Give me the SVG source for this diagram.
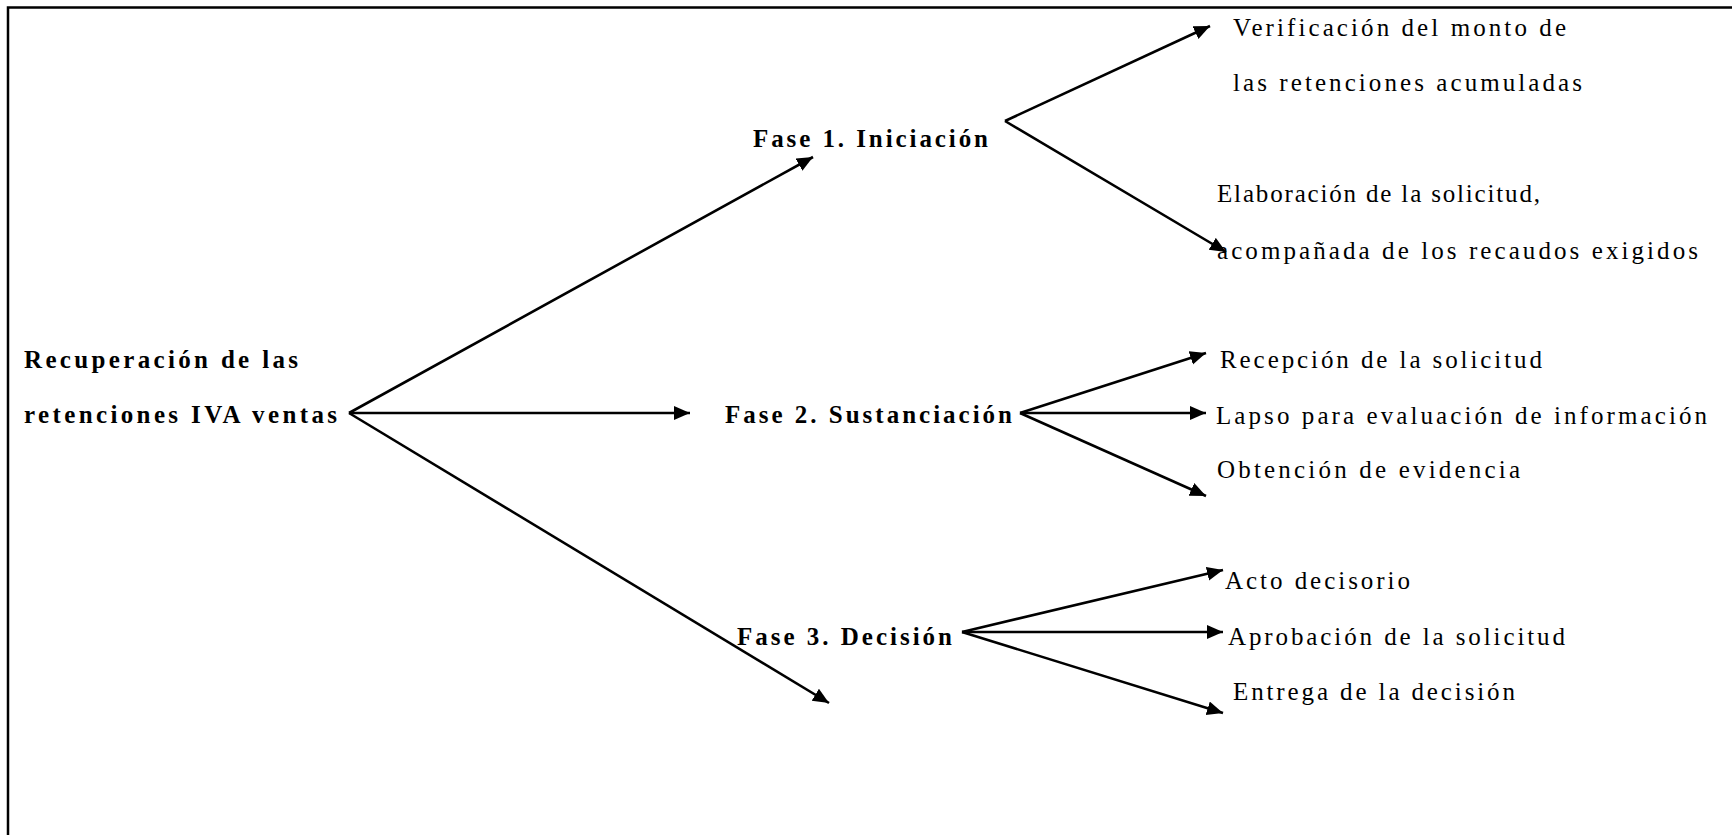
<svg xmlns="http://www.w3.org/2000/svg" width="1732" height="835" viewBox="0 0 1732 835">
<style>
  text { font-family: "Liberation Serif", "Times New Roman", "DejaVu Serif", "Noto Serif", serif; font-size: 25px; fill: #000; }
  .b { font-weight: bold; }
  .c { stroke: #000; stroke-width: 2.6; fill: none; }
</style>
<defs>
  <marker id="ah" markerUnits="userSpaceOnUse" markerWidth="18" markerHeight="16" refX="16" refY="7" orient="auto">
    <path d="M0,0 L16,7 L0,14 z" fill="#000"/>
  </marker>
</defs>
<rect x="0" y="0" width="1732" height="835" fill="#fff"/>
<path d="M8,850 L8,7.5 L1740,7.5" fill="none" stroke="#000" stroke-width="2.5"/>

<g id="connectors">
  <line class="c" x1="349" y1="413" x2="813" y2="157" marker-end="url(#ah)"/>
  <line class="c" x1="349" y1="413" x2="690" y2="413" marker-end="url(#ah)"/>
  <line class="c" x1="349" y1="413" x2="829" y2="703" marker-end="url(#ah)"/>
  <line class="c" x1="1005" y1="121" x2="1210" y2="26" marker-end="url(#ah)"/>
  <line class="c" x1="1005" y1="121" x2="1226" y2="252" marker-end="url(#ah)"/>
  <line class="c" x1="1020" y1="413" x2="1206" y2="353" marker-end="url(#ah)"/>
  <line class="c" x1="1020" y1="413" x2="1206" y2="413" marker-end="url(#ah)"/>
  <line class="c" x1="1020" y1="413" x2="1206" y2="496" marker-end="url(#ah)"/>
  <line class="c" x1="962" y1="632" x2="1223" y2="570" marker-end="url(#ah)"/>
  <line class="c" x1="962" y1="632" x2="1223" y2="632" marker-end="url(#ah)"/>
  <line class="c" x1="962" y1="632" x2="1223" y2="713" marker-end="url(#ah)"/>
</g>

<g id="root">
  <text class="b" x="24" y="368" textLength="274" lengthAdjust="spacing">Recuperación de las</text>
  <text class="b" x="24" y="423" textLength="313" lengthAdjust="spacing">retenciones IVA ventas</text>
</g>
<g id="fase1">
  <text class="b" x="753" y="147" textLength="235" lengthAdjust="spacing">Fase 1. Iniciación</text>
</g>
<g id="fase2">
  <text class="b" x="725" y="423" textLength="287" lengthAdjust="spacing">Fase 2. Sustanciación</text>
</g>
<g id="fase3">
  <text class="b" x="737" y="645" textLength="215" lengthAdjust="spacing">Fase 3. Decisión</text>
</g>
<g id="verificacion">
  <text x="1233" y="36" textLength="333" lengthAdjust="spacing">Verificación del monto de</text>
  <text x="1233" y="91" textLength="349" lengthAdjust="spacing">las retenciones acumuladas</text>
</g>
<g id="elaboracion">
  <text x="1217" y="202" textLength="323" lengthAdjust="spacing">Elaboración de la solicitud,</text>
  <text x="1217" y="259" textLength="481" lengthAdjust="spacing">acompañada de los recaudos exigidos</text>
</g>
<g id="recepcion">
  <text x="1220" y="368" textLength="322" lengthAdjust="spacing">Recepción de la solicitud</text>
</g>
<g id="lapso">
  <text x="1216" y="424" textLength="491" lengthAdjust="spacing">Lapso para evaluación de información</text>
</g>
<g id="obtencion">
  <text x="1217" y="478" textLength="303" lengthAdjust="spacing">Obtención de evidencia</text>
</g>
<g id="acto">
  <text x="1225" y="589" textLength="185" lengthAdjust="spacing">Acto decisorio</text>
</g>
<g id="aprobacion">
  <text x="1228" y="645" textLength="337" lengthAdjust="spacing">Aprobación de la solicitud</text>
</g>
<g id="entrega">
  <text x="1233" y="700" textLength="282" lengthAdjust="spacing">Entrega de la decisión</text>
</g>
</svg>
